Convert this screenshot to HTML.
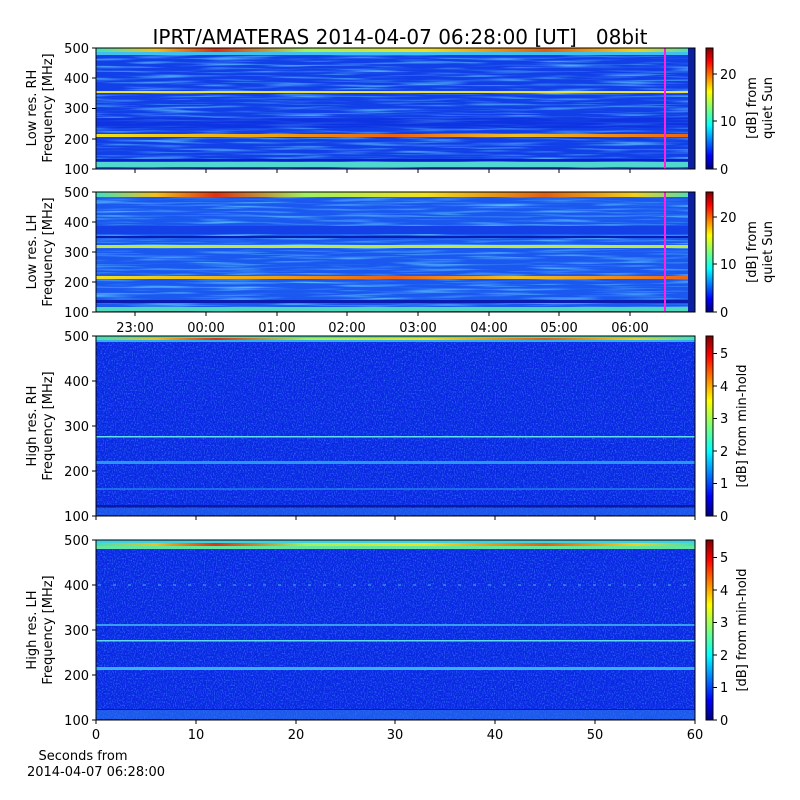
<!DOCTYPE html>
<html><head><meta charset="utf-8"><style>
body{margin:0;background:#fff;}
svg{display:block;font-family:"DejaVu Sans","Liberation Sans",sans-serif;}
</style></head><body>
<svg width="800" height="800" viewBox="0 0 800 800" xmlns="http://www.w3.org/2000/svg">
<defs>
<linearGradient id="jet" x1="0" y1="1" x2="0" y2="0">
<stop offset="0" stop-color="#00007f"/><stop offset="0.11" stop-color="#0000ff"/>
<stop offset="0.36" stop-color="#00ffff"/><stop offset="0.5" stop-color="#7dff7a"/>
<stop offset="0.64" stop-color="#ffff00"/><stop offset="0.89" stop-color="#ff0000"/>
<stop offset="1" stop-color="#7f0000"/></linearGradient>
<linearGradient id="topband" x1="0" y1="0" x2="1" y2="0">
<stop offset="0" stop-color="#40e0c0"/><stop offset="0.1" stop-color="#f0c020"/><stop offset="0.2" stop-color="#e03010"/>
<stop offset="0.35" stop-color="#a0f060"/><stop offset="0.55" stop-color="#f0e020"/><stop offset="0.75" stop-color="#e06010"/>
<stop offset="0.9" stop-color="#f0d020"/><stop offset="1" stop-color="#40e0c0"/></linearGradient>
<linearGradient id="orange" x1="0" y1="0" x2="1" y2="0">
<stop offset="0" stop-color="#f0e020"/><stop offset="0.3" stop-color="#f0a010"/><stop offset="0.5" stop-color="#f06010"/>
<stop offset="0.7" stop-color="#f0c020"/><stop offset="1" stop-color="#f06010"/></linearGradient>
<filter id="noise" x="0" y="0" width="100%" height="100%">
<feTurbulence type="fractalNoise" baseFrequency="0.9 0.6" numOctaves="1" seed="3"/>
<feColorMatrix type="matrix" values="0 0 0 0 0.1  0 0 0 0 0.55  0 0 0 0 1  1.6 0 0 0 -0.75"/>
</filter>
<filter id="streak" x="0" y="0" width="100%" height="100%">
<feTurbulence type="fractalNoise" baseFrequency="0.015 0.45" numOctaves="2" seed="7"/>
<feColorMatrix type="matrix" values="0 0 0 0 0.15  0 0 0 0 0.7  0 0 0 0 1  2.2 0 0 0 -1.05"/>
</filter>
</defs>
<text x="400" y="44" font-size="20" text-anchor="middle" xml:space="preserve">IPRT/AMATERAS 2014-04-07 06:28:00 [UT]   08bit</text>

<!-- Panel 1 -->
<rect x="96" y="48" width="599" height="121" fill="#1240e8"/>
<rect x="96" y="48" width="599" height="121" filter="url(#streak)" opacity="0.9"/>
<rect x="96" y="118" width="599" height="10" fill="#0c2ce0" opacity="0.6"/>
<rect x="96" y="48" width="599" height="4" fill="url(#topband)"/>
<rect x="96" y="52" width="599" height="3" fill="#40c0f0"/>
<rect x="96" y="91" width="599" height="2" fill="#e8e040"/>
<rect x="96" y="134" width="599" height="3" fill="url(#orange)"/>
<rect x="96" y="159" width="599" height="2" fill="#0a20c8"/>
<rect x="96" y="162" width="599" height="5" fill="#50d8d0"/>
<rect x="688" y="48" width="7" height="121" fill="#0a20a0"/>
<rect x="664" y="48" width="2" height="121" fill="#ff20e0"/>
<rect x="96" y="48" width="599" height="121" fill="none" stroke="#000" stroke-width="1"/>

<!-- Panel 2 -->
<rect x="96" y="192" width="599" height="120" fill="#1a58f0"/>
<rect x="96" y="192" width="599" height="120" filter="url(#streak)" opacity="0.9"/>
<rect x="96" y="226" width="599" height="8" fill="#1440e8"/>
<rect x="96" y="192" width="599" height="5" fill="url(#topband)"/>
<rect x="96" y="236" width="599" height="2" fill="#0820b0"/>
<rect x="96" y="245" width="599" height="3" fill="#c0e840"/>
<rect x="96" y="276" width="599" height="3" fill="url(#orange)"/>
<rect x="96" y="300" width="599" height="3" fill="#0a1cb0"/>
<rect x="96" y="307" width="599" height="4" fill="#50d8c0"/>
<rect x="688" y="192" width="7" height="120" fill="#0a20a0"/>
<rect x="664" y="192" width="2" height="120" fill="#ff20e0"/>
<rect x="96" y="192" width="599" height="120" fill="none" stroke="#000"/>

<!-- Panel 3 -->
<rect x="96" y="336" width="599" height="180" fill="#0a28e4"/>
<rect x="96" y="336" width="599" height="180" filter="url(#noise)" opacity="0.8"/>
<rect x="96" y="336" width="599" height="2" fill="#40e0c0"/>
<rect x="96" y="338" width="599" height="2" fill="url(#topband)"/>
<rect x="96" y="340" width="599" height="2" fill="#30b0f0"/>
<rect x="96" y="436" width="599" height="1.5" fill="#60e0f0"/>
<rect x="96" y="461" width="599" height="3" fill="#30b0f0" opacity="0.8"/>
<rect x="96" y="488" width="599" height="2" fill="#2890f0" opacity="0.6"/>
<rect x="96" y="505" width="599" height="2" fill="#0a1aa0"/>
<rect x="96" y="508" width="599" height="7" fill="#2a70f0" opacity="0.6"/>
<rect x="96" y="336" width="599" height="180" fill="none" stroke="#000"/>

<!-- Panel 4 -->
<rect x="96" y="540" width="599" height="180" fill="#0a28e4"/>
<rect x="96" y="540" width="599" height="180" filter="url(#noise)" opacity="0.8"/>
<rect x="96" y="540" width="599" height="3" fill="#40d0e0"/>
<rect x="96" y="543" width="599" height="3" fill="url(#topband)"/>
<rect x="96" y="546" width="599" height="3" fill="#60e8a0"/>
<line x1="98" y1="585" x2="695" y2="585" stroke="#60d0f0" stroke-width="1" stroke-dasharray="3 12" opacity="0.8"/>
<rect x="96" y="624" width="599" height="2" fill="#40b8f0" opacity="0.8"/>
<rect x="96" y="640" width="599" height="1.5" fill="#60d8f0"/>
<rect x="96" y="667" width="599" height="3" fill="#40c8f0" opacity="0.85"/>
<rect x="96" y="709" width="599" height="1" fill="#0a1aa0"/>
<rect x="96" y="710" width="599" height="9" fill="#2a78f0" opacity="0.6"/>
<rect x="96" y="540" width="599" height="180" fill="none" stroke="#000"/>

<!-- colorbars -->
<g stroke="#000" font-size="13">
<rect x="706" y="48" width="7" height="121" fill="url(#jet)"/>
<rect x="706" y="192" width="7" height="120" fill="url(#jet)"/>
<rect x="706" y="336" width="7" height="180" fill="url(#jet)"/>
<rect x="706" y="540" width="7" height="180" fill="url(#jet)"/>
<path d="M713 169h4M713 121h4M713 74h4M713 312h4M713 264h4M713 217h4"/>
<path d="M713 516h4M713 483.5h4M713 451h4M713 418.5h4M713 386h4M713 353.5h4"/>
<path d="M713 720h4M713 687.5h4M713 655h4M713 622.5h4M713 590h4M713 557.5h4"/>
</g>
<g font-size="13" fill="#000">
<text x="720" y="174">0</text><text x="720" y="126">10</text><text x="720" y="79">20</text>
<text x="720" y="317">0</text><text x="720" y="269">10</text><text x="720" y="222">20</text>
<text x="720" y="521">0</text><text x="720" y="488">1</text><text x="720" y="456">2</text><text x="720" y="423">3</text><text x="720" y="391">4</text><text x="720" y="358">5</text>
<text x="720" y="725">0</text><text x="720" y="692">1</text><text x="720" y="660">2</text><text x="720" y="627">3</text><text x="720" y="595">4</text><text x="720" y="562">5</text>
<text transform="translate(756,108) rotate(-90)" text-anchor="middle">[dB] from</text>
<text transform="translate(772,108) rotate(-90)" text-anchor="middle">quiet Sun</text>
<text transform="translate(756,252) rotate(-90)" text-anchor="middle">[dB] from</text>
<text transform="translate(772,252) rotate(-90)" text-anchor="middle">quiet Sun</text>
<text transform="translate(746,426) rotate(-90)" text-anchor="middle">[dB] from min-hold</text>
<text transform="translate(746,630) rotate(-90)" text-anchor="middle">[dB] from min-hold</text>
</g>

<!-- axes ticks -->
<g stroke="#000">
<path d="M92 48h4M92 78h4M92 108.5h4M92 139h4M92 169h4"/>
<path d="M92 192h4M92 222h4M92 252h4M92 282h4M92 312h4"/>
<path d="M92 336h4M92 381h4M92 426h4M92 471h4M92 516h4"/>
<path d="M92 540h4M92 585h4M92 630h4M92 675h4M92 720h4"/>
<path d="M135 169v4M206 169v4M277 169v4M347 169v4M418 169v4M489 169v4M559 169v4M630 169v4"/>
<path d="M135 312v4M206 312v4M277 312v4M347 312v4M418 312v4M489 312v4M559 312v4M630 312v4"/>
<path d="M96 516v4M196 516v4M296 516v4M395 516v4M495 516v4M595 516v4M695 516v4"/>
<path d="M96 720v4M196 720v4M296 720v4M395 720v4M495 720v4M595 720v4M695 720v4"/>
</g>
<g font-size="13" text-anchor="end">
<text x="89" y="53">500</text><text x="89" y="83">400</text><text x="89" y="113">300</text><text x="89" y="144">200</text><text x="89" y="174">100</text>
<text x="89" y="197">500</text><text x="89" y="227">400</text><text x="89" y="257">300</text><text x="89" y="287">200</text><text x="89" y="317">100</text>
<text x="89" y="341">500</text><text x="89" y="386">400</text><text x="89" y="431">300</text><text x="89" y="476">200</text><text x="89" y="521">100</text>
<text x="89" y="545">500</text><text x="89" y="590">400</text><text x="89" y="635">300</text><text x="89" y="680">200</text><text x="89" y="725">100</text>
</g>
<g font-size="13" text-anchor="middle">
<text x="135" y="332">23:00</text><text x="206" y="332">00:00</text><text x="277" y="332">01:00</text><text x="347" y="332">02:00</text><text x="418" y="332">03:00</text><text x="489" y="332">04:00</text><text x="559" y="332">05:00</text><text x="630" y="332">06:00</text>
<text x="96" y="739">0</text><text x="196" y="739">10</text><text x="296" y="739">20</text><text x="395" y="739">30</text><text x="495" y="739">40</text><text x="595" y="739">50</text><text x="695" y="739">60</text>
<text x="83" y="760">Seconds from</text><text x="96" y="776">2014-04-07 06:28:00</text>
<text transform="translate(36,108) rotate(-90)">Low res. RH</text>
<text transform="translate(52,108) rotate(-90)">Frequency [MHz]</text>
<text transform="translate(36,252) rotate(-90)">Low res. LH</text>
<text transform="translate(52,252) rotate(-90)">Frequency [MHz]</text>
<text transform="translate(36,426) rotate(-90)">High res. RH</text>
<text transform="translate(52,426) rotate(-90)">Frequency [MHz]</text>
<text transform="translate(36,630) rotate(-90)">High res. LH</text>
<text transform="translate(52,630) rotate(-90)">Frequency [MHz]</text>
</g>
</svg>
</body></html>
